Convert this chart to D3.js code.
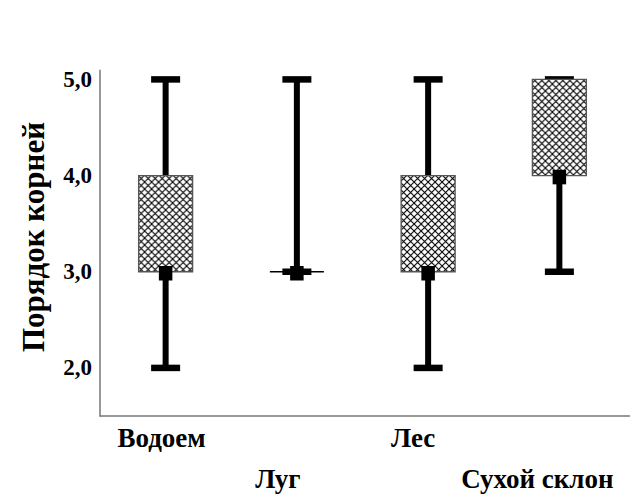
<!DOCTYPE html>
<html>
<head>
<meta charset="utf-8">
<script src="https://cdn.jsdelivr.net/npm/d3@7"></script>
<style>
html,body{margin:0;padding:0;background:#fff;}
svg{display:block;}
</style>
</head>
<body>
<script>
const categories = ["Водоем", "Луг", "Лес", "Сухой склон"];
const minVals = [2, 3, 2, 3];
const q1Vals = [3, 3, 3, 4];
const medianVals = [3, 3, 3, 4];
const q3Vals = [4, 3, 4, 5];
const maxVals = [5, 5, 5, 5];
const yTicks = [2, 3, 4, 5];
const yTitle = "Порядок корней";

const W = 630, H = 495;
const font = "'Liberation Serif','Times New Roman',serif";
const labelRow = [0, 1, 0, 1];
const labelShift = [-4, -19, -15, -22];

const svg = d3.select("body").append("svg").attr("width", W).attr("height", H);

const defs = svg.append("defs");
const pat = defs.append("pattern").attr("id", "hatch")
  .attr("patternUnits", "userSpaceOnUse").attr("width", 7).attr("height", 7);
pat.append("rect").attr("width", 7).attr("height", 7).attr("fill", "#fff");
pat.append("path").attr("d", "M0,0L7,7M7,0L0,7")
  .attr("stroke", "#000").attr("stroke-width", 1.1);

const x = d3.scaleBand().domain(categories).range([100, 625]);
const y = d3.scaleLinear().domain([1.5, 5.1]).range([416, 69.8]);

const data = categories.map((c, i) => ({
  c, i, min: minVals[i], q1: q1Vals[i], med: medianVals[i], q3: q3Vals[i], max: maxVals[i]
}));

const boxW = 54, capW = 29, capH = 6.5, whiskW = 6, sq = 13.5;

const yAxis = d3.axisLeft(y).tickValues(yTicks).tickSize(0).tickPadding(8)
  .tickFormat(d => d3.format(".1f")(d).replace(".", ","));
const gy = svg.append("g").attr("transform", "translate(100,0)").call(yAxis);
gy.select(".domain").remove();
gy.selectAll("text").attr("font-family", font).attr("font-weight", "bold")
  .attr("font-size", 23).attr("fill", "#000").attr("dy", "0.3em");

svg.append("line").attr("x1", 100).attr("x2", 100).attr("y1", y.range()[1]).attr("y2", y.range()[0] + 0.75)
  .attr("stroke", "#777").attr("stroke-width", 1.5);
svg.append("line").attr("x1", 100).attr("x2", W).attr("y1", y.range()[0]).attr("y2", y.range()[0])
  .attr("stroke", "#777").attr("stroke-width", 1.5);

const g = svg.append("g").selectAll("g").data(data).join("g")
  .attr("transform", d => `translate(${x(d.c) + x.bandwidth() / 2},0)`);

g.append("rect").attr("x", -whiskW / 2).attr("width", whiskW)
  .attr("y", d => y(d.max)).attr("height", d => y(d.min) - y(d.max)).attr("fill", "#000");
g.append("rect").attr("x", -capW / 2).attr("width", capW)
  .attr("y", d => y(d.max) - capH / 2).attr("height", capH).attr("fill", "#000");
g.append("rect").attr("x", -capW / 2).attr("width", capW)
  .attr("y", d => y(d.min) - capH / 2).attr("height", capH).attr("fill", "#000");
g.append("path")
  .attr("d", d => `M${-boxW / 2},${y(d.q3)}H${boxW / 2}V${y(d.q1)}H${-boxW / 2}Z`)
  .attr("fill", "url(#hatch)")
  .attr("stroke", d => d.q1 === d.q3 ? "#000" : "#555").attr("stroke-width", 1.3);
g.append("rect").attr("x", -sq / 2).attr("width", sq)
  .attr("y", d => y(d.med) - sq / 2 + 1).attr("height", sq + 1).attr("fill", "#000");

svg.append("g").selectAll("text").data(data).join("text")
  .attr("x", d => x(d.c) + x.bandwidth() / 2 + labelShift[d.i])
  .attr("y", d => labelRow[d.i] === 0 ? 447 : 488)
  .attr("text-anchor", "middle")
  .attr("font-family", font).attr("font-weight", "bold").attr("font-size", 27)
  .text(d => d.c);

svg.append("text")
  .attr("transform", "translate(44,237) rotate(-90)")
  .attr("text-anchor", "middle")
  .attr("font-family", font).attr("font-weight", "bold").attr("font-size", 31)
  .text(yTitle);
</script>
</body>
</html>
